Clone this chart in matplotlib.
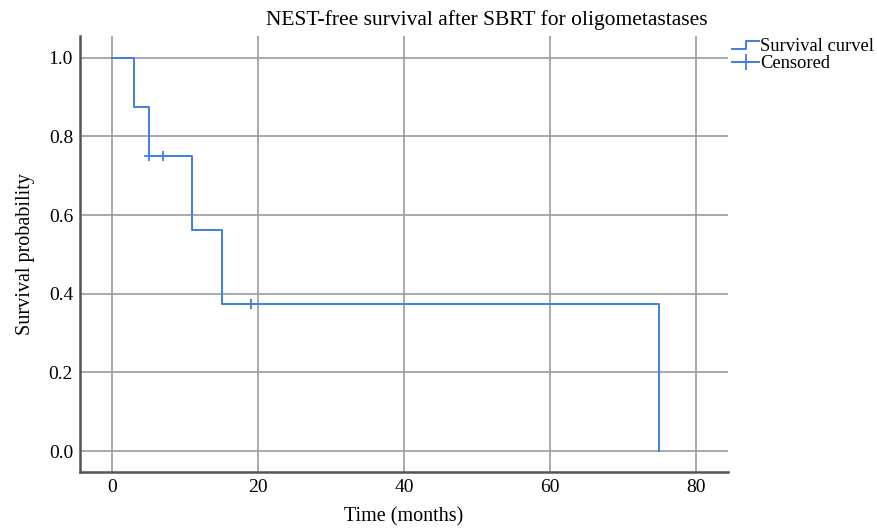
import matplotlib.pyplot as plt
from matplotlib.lines import Line2D
from matplotlib.legend_handler import HandlerBase

plt.rcParams['font.family'] = ['Liberation Serif', 'DejaVu Serif']

# step data (months, survival)
event_times = [0, 3, 5, 11, 15, 75]
survival = [1.0, 0.875, 0.75, 0.5625, 0.375, 0.0]
censor_times = [5, 7, 19]
censor_surv = [0.75, 0.75, 0.375]

xticks = [0, 20, 40, 60, 80]
yticks = [0.0, 0.2, 0.4, 0.6, 0.8, 1.0]

blue = '#3f7fe0'
grid_col = '#9b9b9b'


class StepHandler(HandlerBase):
    # little step icon like the SPSS legend
    def create_artists(self, legend, orig_handle, xd, yd, w, h, fontsize, trans):
        xs = [xd, xd + w * 0.5, xd + w * 0.5, xd + w]
        ys = [yd + h * 0.2, yd + h * 0.2, yd + h * 0.8, yd + h * 0.8]
        ln = Line2D(xs, ys, color=blue, lw=1.4, transform=trans)
        return [ln]


fig = plt.figure(figsize=(8.78, 5.29), dpi=100)
ax = fig.add_axes([0.0911, 0.1078, 0.738, 0.824])

ax.step(event_times, survival, where='post', color=blue, lw=1.4, zorder=3)
ax.plot(censor_times, censor_surv, ls='none', marker='+', ms=7, mew=1.3,
        color=blue, zorder=3)

ax.set_xlim(-4.4, 84.4)
ax.set_ylim(-0.053, 1.055)
ax.set_xticks(xticks)
ax.set_yticks(yticks)
ax.set_yticklabels([f'{v:.1f}' for v in yticks])
ax.grid(True, color=grid_col, lw=1.2)
ax.set_axisbelow(True)
ax.tick_params(length=0, labelsize=14, pad=5)

for s in ['top', 'right']:
    ax.spines[s].set_visible(False)
for s in ['left', 'bottom']:
    ax.spines[s].set_color('#555555')
    ax.spines[s].set_linewidth(1.8)

ax.set_xlabel('Time (months)', fontsize=14.5, labelpad=8)
ax.set_ylabel('Survival probability', fontsize=14.5, labelpad=10)
fig.text(0.555, 0.962, 'NEST-free survival after SBRT for oligometastases',
         ha='center', va='center', fontsize=15.5)

h1 = Line2D([], [], color=blue)
h2 = Line2D([], [], color=blue, marker='+', ms=11, mew=1.3, lw=1.4)
fig.legend([h1, h2], ['Survival curvel', 'Censored'],
           handler_map={h1: StepHandler()},
           loc='upper left', bbox_to_anchor=(0.834, 0.928),
           frameon=False, fontsize=13.3, handlelength=1.45,
           handletextpad=0.05, labelspacing=0.0, borderpad=0,
           borderaxespad=0)

fig.savefig('out.png', dpi=100)
